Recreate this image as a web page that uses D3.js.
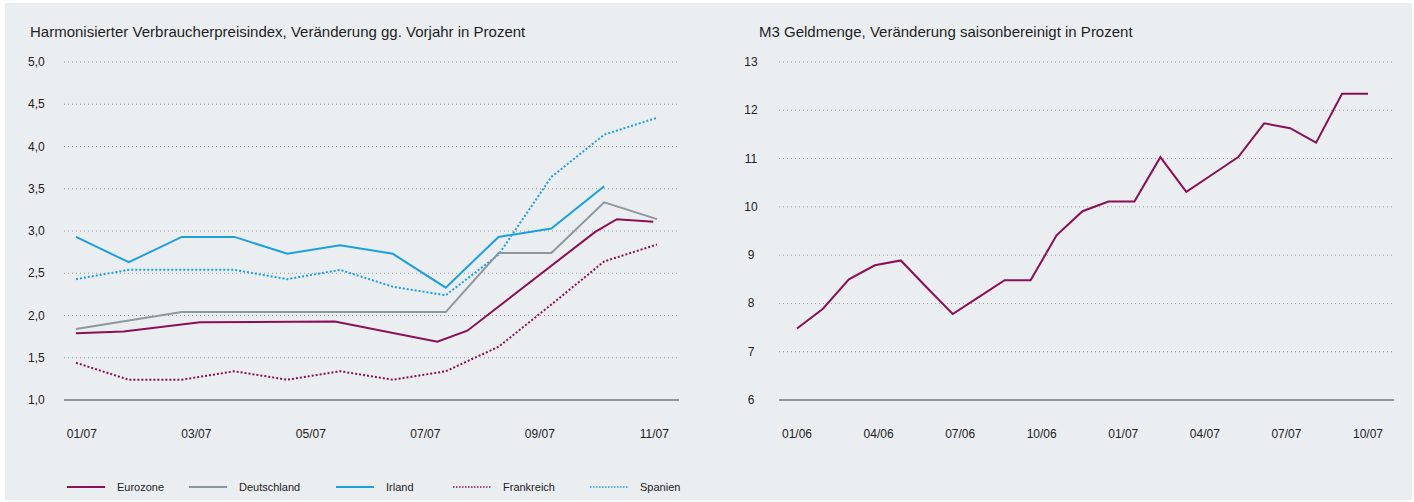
<!DOCTYPE html>
<html>
<head>
<meta charset="utf-8">
<script src="https://cdn.jsdelivr.net/npm/d3@7"></script>
<style>
  body { margin: 0; background: #fff; }
  svg { display: block; font-family: "Liberation Sans", Arial, sans-serif; }
  .title { font-size: 15px; fill: #1e1e1e; }
  .tick-label { font-size: 12px; fill: #222; }
  .legend-label { font-size: 11px; fill: #222; }
</style>
</head>
<body>
<svg width="1414" height="502"></svg>
<script>
// left chart: HVPI, monthly points (index 0..11)
var hvpiTicks = ["01/07", "03/07", "05/07", "07/07", "09/07", "11/07"];
var irland      = [2.93, 2.63, 2.93, 2.93, 2.73, 2.83, 2.73, 2.33, 2.93, 3.03, 3.53];
var deutschland = [1.84, 1.94, 2.04, 2.04, 2.04, 2.04, 2.04, 2.04, 2.74, 2.74, 3.34, 3.14];
var spanien     = [2.43, 2.54, 2.54, 2.54, 2.43, 2.54, 2.34, 2.24, 2.72, 3.64, 4.14, 4.34];
var frankreich  = [1.44, 1.24, 1.24, 1.34, 1.24, 1.34, 1.24, 1.34, 1.63, 2.13, 2.64, 2.84];
var eurozoneX   = [0, 0.9, 2.35, 4.9, 6.84, 7.41, 9.83, 10.24, 10.93];
var eurozone    = [1.79, 1.81, 1.92, 1.93, 1.69, 1.82, 2.99, 3.14, 3.11];

// right chart: M3, monthly 01/06 .. 11/07
var m3Ticks = ["01/06", "04/06", "07/06", "10/06", "01/07", "04/07", "07/07", "10/07"];
var m3 = [7.48, 7.89, 8.50, 8.79, 8.89, 8.33, 7.78, 8.13, 8.48, 8.48, 9.41, 9.91,
          10.11, 10.11, 11.03, 10.31, 10.67, 11.03, 11.73, 11.63, 11.33, 12.34, 12.34];

var burgundy = "#8a0f55", grey = "#8d979e", blue = "#1aa0dc";
var gridColor = "#8e979d";

var svg = d3.select("svg");
svg.append("rect").attr("x", 5).attr("y", 3).attr("width", 1407).attr("height", 497)
  .attr("fill", "#ebeef1");

var de = d3.formatLocale({decimal: ",", thousands: ".", grouping: [3], currency: ["", "€"]});
var fmt1 = de.format(".1f");

function grid(g, y, x0, x1, ticks) {
  g.selectAll("line.grid").data(ticks.slice(1)).enter().append("line")
    .attr("x1", x0).attr("x2", x1)
    .attr("y1", function(d) { return y(d); }).attr("y2", function(d) { return y(d); })
    .attr("stroke", gridColor).attr("stroke-width", 1).attr("stroke-dasharray", "1,3");
  g.append("line")
    .attr("x1", x0).attr("x2", x1 + 2)
    .attr("y1", y(ticks[0])).attr("y2", y(ticks[0]))
    .attr("stroke", grey).attr("stroke-width", 2);
}

// ---------- left chart ----------
var left = svg.append("g");
var xL = d3.scaleLinear().domain([0, 11]).range([76, 657]);
var yL = d3.scaleLinear().domain([1, 5]).range([400, 62]);
var xTickL = d3.scalePoint().domain(hvpiTicks).range([xL(0.11), xL(10.95)]);
var yTicksL = d3.range(1, 5.01, 0.5);

left.append("text").attr("class", "title").attr("x", 30).attr("y", 37)
  .text("Harmonisierter Verbraucherpreisindex, Veränderung gg. Vorjahr in Prozent");

grid(left, yL, 64, 677, yTicksL);

left.selectAll("text.ylab").data(yTicksL).enter().append("text")
  .attr("class", "tick-label").attr("x", 28)
  .attr("y", function(d) { return yL(d) + 4; })
  .text(function(d) { return fmt1(d); });

left.selectAll("text.xlab").data(hvpiTicks).enter().append("text")
  .attr("class", "tick-label").attr("text-anchor", "middle")
  .attr("x", function(d) { return xTickL(d); }).attr("y", 438)
  .text(function(d) { return d; });

var lineL = d3.line()
  .x(function(d) { return xL(d[0]); })
  .y(function(d) { return yL(d[1]); });

function byIndex(arr) { return arr.map(function(v, i) { return [i, v]; }); }

var seriesL = [
  {name: "Eurozone", pts: eurozoneX.map(function(x, i) { return [x, eurozone[i]]; }), color: burgundy, dash: null},
  {name: "Deutschland", pts: byIndex(deutschland), color: grey, dash: null},
  {name: "Irland", pts: byIndex(irland), color: blue, dash: null},
  {name: "Frankreich", pts: byIndex(frankreich), color: burgundy, dash: "2,2"},
  {name: "Spanien", pts: byIndex(spanien), color: blue, dash: "2,2"}
];

var drawOrder = [4, 3, 2, 1, 0];
drawOrder.forEach(function(k) {
  var s = seriesL[k];
  left.append("path").datum(s.pts)
    .attr("d", lineL)
    .attr("fill", "none")
    .attr("stroke", s.color)
    .attr("stroke-width", 2)
    .attr("stroke-dasharray", s.dash);
});

// legend
var legendX = [67, 189, 336, 453, 590];
var legend = left.selectAll("g.legend").data(seriesL).enter().append("g")
  .attr("transform", function(d, i) { return "translate(" + legendX[i] + ",487)"; });
legend.append("line").attr("x1", 0).attr("x2", 38).attr("y1", 0).attr("y2", 0)
  .attr("stroke", function(d) { return d.color; })
  .attr("stroke-width", function(d) { return d.dash ? 1.5 : 2; })
  .attr("stroke-dasharray", function(d) { return d.dash ? "1.5,1.5" : null; });
legend.append("text").attr("class", "legend-label").attr("x", 50).attr("y", 4)
  .text(function(d) { return d.name; });

// ---------- right chart ----------
var right = svg.append("g");
var xR = d3.scaleLinear().domain([0, m3.length - 1]).range([797, 1368]);
var yR = d3.scaleLinear().domain([6, 13]).range([400, 62]);
var xTickR = d3.scalePoint().domain(m3Ticks).range([xR(0), xR(m3.length - 1)]);
var yTicksR = d3.range(6, 14);

right.append("text").attr("class", "title").attr("x", 759).attr("y", 37)
  .text("M3 Geldmenge, Veränderung saisonbereinigt in Prozent");

grid(right, yR, 779, 1392, yTicksR);

right.selectAll("text.ylab").data(yTicksR).enter().append("text")
  .attr("class", "tick-label").attr("text-anchor", "middle").attr("x", 751)
  .attr("y", function(d) { return yR(d) + 4; })
  .text(function(d) { return d; });

right.selectAll("text.xlab").data(m3Ticks).enter().append("text")
  .attr("class", "tick-label").attr("text-anchor", "middle")
  .attr("x", function(d) { return xTickR(d); }).attr("y", 438)
  .text(function(d) { return d; });

right.append("path").datum(m3)
  .attr("d", d3.line()
    .x(function(d, i) { return xR(i); })
    .y(function(d) { return yR(d); }))
  .attr("fill", "none")
  .attr("stroke", burgundy)
  .attr("stroke-width", 2);
</script>
</body>
</html>
